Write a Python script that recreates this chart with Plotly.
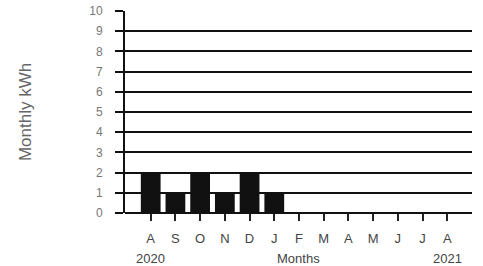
import plotly.graph_objects as go

months = ["A", "S", "O", "N", "D", "J", "F", "M", "A", "M", "J", "J", "A"]
kwh = [2, 1, 2, 1, 2, 1, None, None, None, None, None, None, None]
y_ticks = list(range(0, 11))
years = ["2020", "2021"]

x = list(range(len(months)))

fig = go.Figure()
fig.add_trace(go.Bar(x=x, y=kwh, marker=dict(color="#111111", line=dict(width=0)), width=0.8))

fig.update_layout(
    width=483, height=266,
    margin=dict(l=125, r=11, t=11, b=53, autoexpand=False),
    paper_bgcolor="white", plot_bgcolor="white",
    showlegend=False,
    font=dict(family="Liberation Sans, Arial, sans-serif", color="#555555"),
    bargap=0.2,
)
fig.update_xaxes(
    automargin=False,
    range=[-1.04, 13.0],
    tickmode="array", tickvals=x, ticktext=months,
    ticks="outside", ticklen=7, tickwidth=1.5, tickcolor="#222222",
    tickfont=dict(size=13, color="#444444"),
    ticklabelstandoff=6,
    showgrid=False, zeroline=False, showline=False,
)
fig.update_yaxes(
    automargin=False,
    range=[0, 10],
    tickmode="array", tickvals=y_ticks,
    ticks="outside", ticklen=8, tickwidth=2, tickcolor="#111111",
    tickfont=dict(size=12, color="#777777"),
    ticklabelstandoff=10,
    showgrid=True, gridcolor="#111111", gridwidth=2,
    zeroline=True, zerolinecolor="#111111", zerolinewidth=2,
    showline=True, linecolor="#111111", linewidth=2,
)

fig.add_annotation(x=-0.288, y=0.5, xref="paper", yref="paper", text="Monthly kWh", textangle=-90,
                   showarrow=False, font=dict(size=17, color="#666666"), xanchor="center", yanchor="middle")
fig.add_annotation(x=0, y=-0.223, xref="x", yref="paper", yanchor="middle", text=years[0],
                   showarrow=False, font=dict(size=13, color="#444444"))
fig.add_annotation(x=12, y=-0.223, xref="x", yref="paper", yanchor="middle", text=years[1],
                   showarrow=False, font=dict(size=13, color="#444444"))
fig.add_annotation(x=6, y=-0.223, xref="x", yref="paper", yanchor="middle", text="Months",
                   showarrow=False, font=dict(size=13, color="#444444"))

fig.write_html("out.html", config={"displayModeBar": False},
               post_script="document.body.style.margin='0';document.body.style.overflow='hidden';")
